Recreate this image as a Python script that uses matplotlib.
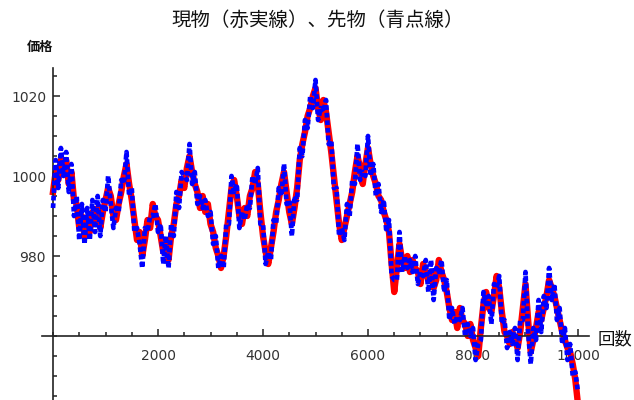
import numpy as np
import matplotlib
matplotlib.use("Agg")
import matplotlib.pyplot as plt
from matplotlib.ticker import FixedLocator, MultipleLocator

plt.rcParams['font.family'] = ['Noto Sans CJK JP', 'DejaVu Sans']

# trading step (every 50 steps, 0..10000)
steps = np.arange(0, 10001, 50)

# spot price (red solid line)
spot = [
    996, 1001, 999, 1004, 1001, 1004, 998, 1001, 994, 993,
    987, 990, 985, 989, 986, 991, 988, 992, 987, 991,
    994, 997, 995, 990, 989, 993, 996, 1000, 1003, 998,
    994, 989, 984, 986, 980, 984, 989, 987, 993, 990,
    989, 985, 981, 983, 979, 985, 988, 993, 995, 999,
    997, 1002, 1005, 1001, 998, 996, 992, 995, 991, 993,
    988, 986, 982, 980, 977, 980, 985, 991, 997, 999,
    995, 990, 988, 992, 990, 995, 997, 1001, 998, 991,
    985, 981, 978, 982, 986, 991, 994, 998, 1001, 996,
    991, 988, 992, 997, 1004, 1008, 1011, 1015, 1017, 1020,
    1022, 1017, 1014, 1019, 1016, 1011, 1006, 1000, 994, 988,
    984, 987, 990, 993, 996, 1001, 1005, 1002, 998, 1003,
    1007, 1003, 1000, 998, 995, 994, 991, 989, 986, 978,
    971, 977, 983, 979, 977, 980, 976, 979, 977, 976,
    973, 978, 976, 974, 976, 972, 974, 979, 976, 974,
    971, 967, 964, 966, 962, 967, 964, 963, 960, 963,
    959, 957, 955, 962, 968, 971, 967, 966, 970, 975,
    972, 966, 961, 960, 958, 961, 959, 957, 961, 967,
    973, 964, 956, 959, 962, 966, 964, 967, 970, 974,
    972, 970, 967, 964, 961, 959, 957, 956, 953, 949,
    943,
]

# futures price (blue dotted line)
futures = [
    992, 1004, 997, 1007, 1000, 1006, 996, 1003, 990, 995,
    984, 993, 983, 992, 984, 994, 986, 995, 985, 994,
    991, 1000, 993, 987, 992, 991, 999, 998, 1006, 995,
    997, 986, 987, 983, 977, 987, 986, 990, 990, 993,
    986, 988, 978, 985, 977, 988, 985, 996, 992, 1001,
    1000, 999, 1008, 998, 1001, 993, 995, 992, 994, 990,
    991, 983, 985, 977, 980, 977, 988, 988, 1000, 996,
    998, 987, 991, 989, 993, 992, 1000, 998, 1002, 988,
    988, 978, 981, 979, 989, 988, 997, 995, 1003, 993,
    994, 985, 995, 994, 1007, 1005, 1014, 1012, 1020, 1017,
    1024, 1014, 1017, 1016, 1019, 1008, 1009, 997, 997, 985,
    987, 984, 993, 990, 999, 998, 1008, 999, 1001, 1000,
    1010, 1000, 1003, 995, 998, 991, 994, 986, 989, 975,
    974, 974, 986, 976, 980, 977, 979, 976, 980, 973,
    976, 975, 979, 971, 979, 969, 977, 976, 979, 971,
    974, 964, 967, 963, 965, 964, 967, 960, 963, 960,
    962, 954, 958, 959, 971, 968, 970, 963, 973, 972,
    975, 963, 964, 957, 961, 958, 962, 954, 964, 964,
    976, 961, 953, 962, 959, 969, 961, 970, 967, 977,
    969, 973, 964, 967, 958, 962, 954, 958, 950, 951,
    946,
]

y_ticks = [980, 1000, 1020]
x_ticks = [2000, 4000, 6000, 8000, 10000]

W, H = 634, 400
fig = plt.figure(figsize=(W / 100, H / 100), dpi=100)
ax = fig.add_axes([42 / W, 0, 547 / W, 332 / H])

ax.plot(steps, spot, color='red', lw=4.6, solid_joinstyle='round', zorder=2)
ax.plot(steps, futures, color='blue', lw=3.4, linestyle=(0, (1.0, 0.6)), zorder=3)

ax.set_xlim(-210, 10210)
ax.set_ylim(944, 1027)

# Mathematica-style axes crossing at (0, 960)
ax.spines['left'].set_position(('data', 0))
ax.spines['bottom'].set_position(('data', 960))
ax.spines['top'].set_visible(False)
ax.spines['right'].set_visible(False)
for s in ('left', 'bottom'):
    ax.spines[s].set_linewidth(1.2)
    ax.spines[s].set_color('#222222')

ax.xaxis.set_major_locator(FixedLocator(x_ticks))
ax.xaxis.set_minor_locator(MultipleLocator(500))
ax.yaxis.set_major_locator(FixedLocator(y_ticks))
ax.yaxis.set_minor_locator(MultipleLocator(5))
ax.tick_params(which='both', direction='in', color='#222222', width=1.1,
               labelsize=10, labelcolor='#333333')
ax.tick_params(which='major', length=5)
ax.tick_params(which='minor', length=3)
ax.tick_params(axis='x', pad=9)
ax.tick_params(axis='y', pad=5)
for lab in ax.get_xticklabels() + ax.get_yticklabels():
    lab.set_family('DejaVu Sans')

fig.text(318 / W, 1 - 20 / H, '現物（赤実線）、先物（青点線）', ha='center', va='center',
         fontsize=14, color='#111111')
fig.text(27 / W, 1 - 47 / H, '価格', ha='left', va='center', fontsize=9.5,
         fontweight='bold', color='#111111')
fig.text(598 / W, 1 - 339 / H, '回数', ha='left', va='center', fontsize=12.5,
         color='#111111')

fig.savefig('out.png', dpi=100)
